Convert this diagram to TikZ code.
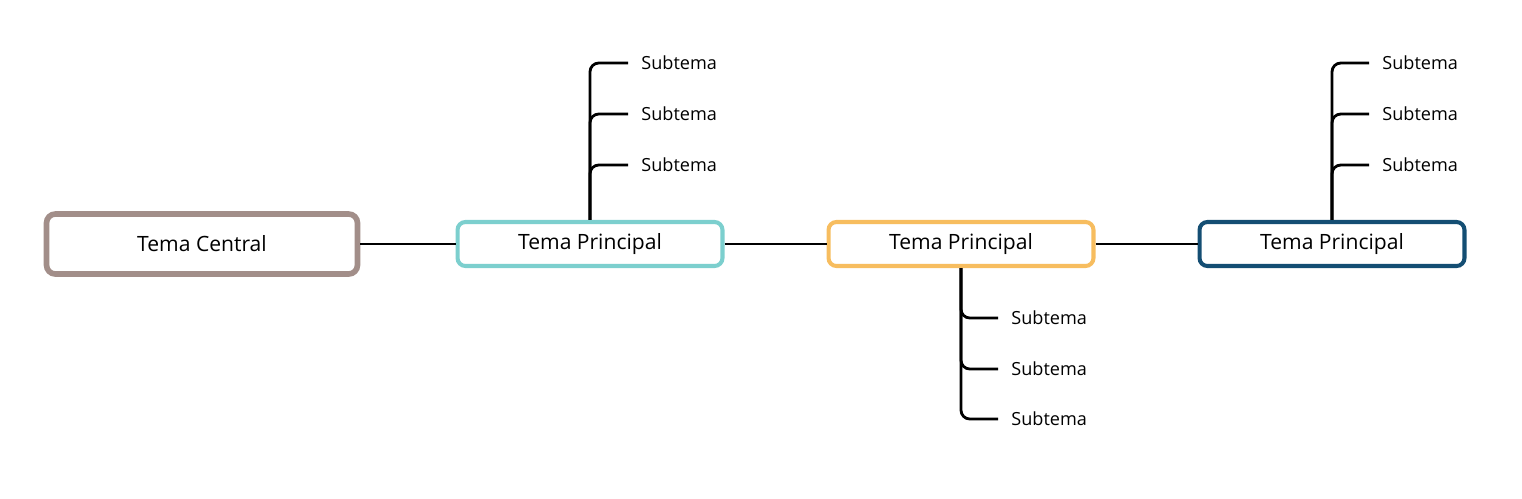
\documentclass[tikz,border=0pt]{standalone}
\usepackage{fontspec}
\setmainfont{Open Sans}
\usetikzlibrary{positioning, calc}

\definecolor{centralc}{HTML}{A28E89}
\definecolor{tealc}{HTML}{7CCFCE}
\definecolor{orangec}{HTML}{F7BD5F}
\definecolor{bluec}{HTML}{144E73}

\begin{document}
\begin{tikzpicture}[x=0.02cm, y=-0.02cm, line width=1.6pt,
    central/.style={draw=centralc, line width=3.2pt, rounded corners=5pt, fill=white,
        minimum width=6.22cm, minimum height=1.2cm, inner sep=0pt, font=\fontsize{12}{14}\selectfont},
    principal/.style={draw=#1, line width=2.3pt, rounded corners=4.5pt, fill=white,
        minimum width=5.3cm, minimum height=0.88cm, inner sep=0pt, font=\fontsize{12}{14}\selectfont},
    sub/.style={anchor=west, inner xsep=0.24cm, inner ysep=0pt, font=\fontsize{10.3}{12}\selectfont},
    branch/.style={rounded corners=5pt}]

\useasboundingbox (0,0) rectangle (1522,498);

% Tema central y temas principales
\node[central] (central) at (202,244) {\raisebox{-1pt}{Tema Central}};
\node[principal=tealc] (tp1) at (590,244) {\raisebox{-1pt}{Tema Principal}};
\node[principal=orangec] (tp2) at (961,244) {\raisebox{-1pt}{Tema Principal}};
\node[principal=bluec] (tp3) at (1332,244) {\raisebox{-1pt}{Tema Principal}};

% Lineas entre temas
\draw (central) -- (tp1);
\draw (tp1) -- (tp2);
\draw (tp2) -- (tp3);

% Subtemas del primer tema principal
\foreach \i/\y in {1/63, 2/114, 3/165} {
    \node[sub] (s1\i) at (628,\y) {Subtema};
    \draw[branch] (tp1.north) |- (s1\i.west);
}

% Subtemas del segundo tema principal (abajo)
\foreach \i/\y in {1/318, 2/369, 3/419} {
    \node[sub] (s2\i) at (998,\y) {Subtema};
    \draw[branch] (tp2.south) |- (s2\i.west);
}

% Subtemas del tercer tema principal
\foreach \i/\y in {1/63, 2/114, 3/165} {
    \node[sub] (s3\i) at (1369,\y) {Subtema};
    \draw[branch] (tp3.north) |- (s3\i.west);
}

\end{tikzpicture}
\end{document}
